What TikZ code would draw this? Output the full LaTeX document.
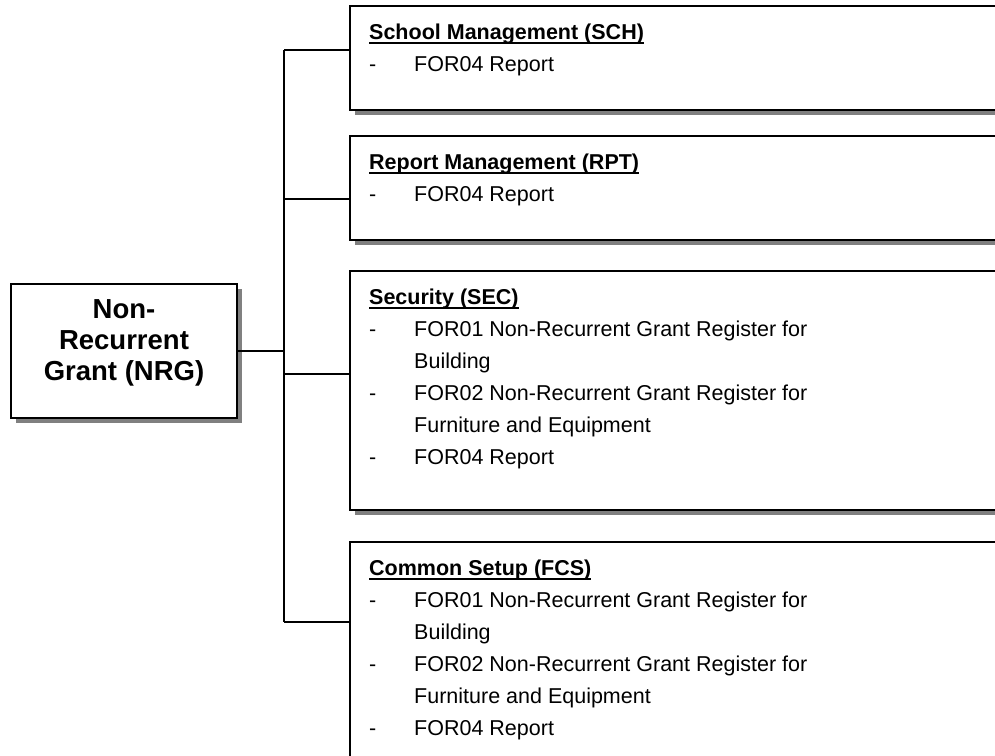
\documentclass[tikz,border=0pt]{standalone}
\usepackage{fontspec}
\setmainfont{Liberation Sans}
\usetikzlibrary{shadows}

\newcommand{\boxfont}{\fontsize{21.5}{32}\selectfont}
\newcommand{\rootfont}{\fontsize{27.5}{31}\selectfont\bfseries}
\newsavebox{\modheadbox}
\newcommand{\modul}[1]{\sbox{\modheadbox}{#1}%
  \rlap{\rule[-4.5pt]{\wd\modheadbox}{1.8pt}}\usebox{\modheadbox}}
\newcommand{\modhead}[1]{\multicolumn{2}{@{}l@{}}{\modul{\textbf{#1}}}}

\begin{document}
\begin{tikzpicture}[x=1pt,y=-1pt,
    modbox/.style={draw,line width=1.6pt,fill=white,minimum width=700pt,
      anchor=north west,inner sep=0pt,
      drop shadow={shadow xshift=5pt,shadow yshift=-5pt,fill=black!50,opacity=1}},
    modtext/.style={anchor=north west,inner sep=0pt,font=\boxfont},
    link/.style={line width=1.3pt}]

    \useasboundingbox (0,0) rectangle (995,755);
    \clip (0,0) rectangle (995,755);

    % Root
    \node[draw,line width=1.6pt,fill=white,minimum width=226pt,minimum height=134pt,
      drop shadow={shadow xshift=5pt,shadow yshift=-5pt,fill=black!50,opacity=1}]
      (nrg) at (124,351) {};
    \node[align=center,font=\rootfont,inner sep=0pt] (nrgtext)
      at ([yshift=8pt]nrg.center) {Non-\\Recurrent\\Grant (NRG)};

    % Trunk and branches
    \coordinate (j1) at (284,50);
    \coordinate (j2) at (284,199);
    \coordinate (j3) at (284,374);
    \coordinate (j4) at (284,622);

    % Modules
    \node[modbox,minimum height=104pt] (sch) at (349,5) {};
    \node[modbox,minimum height=104pt] (rpt) at (349,135) {};
    \node[modbox,minimum height=239pt] (sec) at (349,270) {};
    \node[modbox,minimum height=260pt] (fcs) at (349,541) {};

    \node[modtext] (schtext) at ([xshift=20pt,yshift=-12pt]sch.north west) {%
      \begin{tabular}{@{}p{45pt}@{}l@{}}
        \modhead{School Management (SCH)}\\
        - & FOR04 Report
      \end{tabular}};
    \node[modtext] (rpttext) at ([xshift=20pt,yshift=-12pt]rpt.north west) {%
      \begin{tabular}{@{}p{45pt}@{}l@{}}
        \modhead{Report Management (RPT)}\\
        - & FOR04 Report
      \end{tabular}};
    \node[modtext] (sectext) at ([xshift=20pt,yshift=-12pt]sec.north west) {%
      \begin{tabular}{@{}p{45pt}@{}l@{}}
        \modhead{Security (SEC)}\\
        - & FOR01 Non-Recurrent Grant Register for\\
          & Building\\
        - & FOR02 Non-Recurrent Grant Register for\\
          & Furniture and Equipment\\
        - & FOR04 Report
      \end{tabular}};
    \node[modtext] (fcstext) at ([xshift=20pt,yshift=-12pt]fcs.north west) {%
      \begin{tabular}{@{}p{45pt}@{}l@{}}
        \modhead{Common Setup (FCS)}\\
        - & FOR01 Non-Recurrent Grant Register for\\
          & Building\\
        - & FOR02 Non-Recurrent Grant Register for\\
          & Furniture and Equipment\\
        - & FOR04 Report
      \end{tabular}};

    % Connectors
    \draw[link] (nrg.east) -- (nrg.east -| j1);
    \draw[link] (j1) -- (j4);
    \draw[link] (j1) -- (j1 -| sch.west);
    \draw[link] (j2) -- (j2 -| rpt.west);
    \draw[link] (j3) -- (j3 -| sec.west);
    \draw[link] (j4) -- (j4 -| fcs.west);

\end{tikzpicture}
\end{document}
